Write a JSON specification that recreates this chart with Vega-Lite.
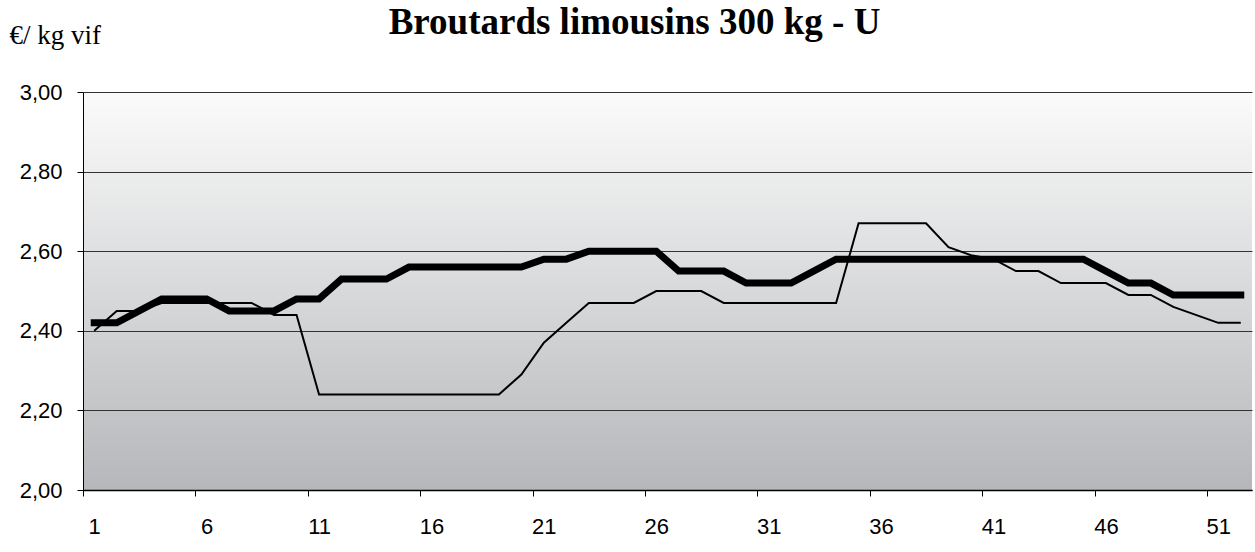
{
  "$schema": "https://vega.github.io/schema/vega-lite/v6.json",
  "width": 1169,
  "height": 398,
  "autosize": {"type": "none"},
  "padding": {"left": 83, "top": 92, "right": 3, "bottom": 62},
  "background": "white",
  "title": {
    "text": "Broutards limousins 300 kg - U",
    "font": "Liberation Serif",
    "fontSize": 37,
    "fontWeight": "bold",
    "color": "#000000",
    "anchor": "middle",
    "frame": "group",
    "dx": -33,
    "offset": -21
  },
  "config": {
    "view": {
      "stroke": null,
      "fill": {
        "gradient": "linear",
        "x1": 0, "y1": 0, "x2": 0, "y2": 1,
        "stops": [
          {"offset": 0, "color": "#fbfbfb"},
          {"offset": 1, "color": "#b5b7ba"}
        ]
      }
    },
    "axis": {
      "labelFont": "Liberation Sans",
      "labelFontSize": 22,
      "labelColor": "#000000",
      "tickColor": "#000000",
      "domainColor": "#000000",
      "tickSize": 6
    }
  },
  "data": {
    "values": [
      {"semaine": 1, "serie": "N-1", "prix": 2.40},
      {"semaine": 2, "serie": "N-1", "prix": 2.45},
      {"semaine": 3, "serie": "N-1", "prix": 2.45},
      {"semaine": 4, "serie": "N-1", "prix": 2.47},
      {"semaine": 5, "serie": "N-1", "prix": 2.47},
      {"semaine": 6, "serie": "N-1", "prix": 2.47},
      {"semaine": 7, "serie": "N-1", "prix": 2.47},
      {"semaine": 8, "serie": "N-1", "prix": 2.47},
      {"semaine": 9, "serie": "N-1", "prix": 2.44},
      {"semaine": 10, "serie": "N-1", "prix": 2.44},
      {"semaine": 11, "serie": "N-1", "prix": 2.24},
      {"semaine": 12, "serie": "N-1", "prix": 2.24},
      {"semaine": 13, "serie": "N-1", "prix": 2.24},
      {"semaine": 14, "serie": "N-1", "prix": 2.24},
      {"semaine": 15, "serie": "N-1", "prix": 2.24},
      {"semaine": 16, "serie": "N-1", "prix": 2.24},
      {"semaine": 17, "serie": "N-1", "prix": 2.24},
      {"semaine": 18, "serie": "N-1", "prix": 2.24},
      {"semaine": 19, "serie": "N-1", "prix": 2.24},
      {"semaine": 20, "serie": "N-1", "prix": 2.29},
      {"semaine": 21, "serie": "N-1", "prix": 2.37},
      {"semaine": 22, "serie": "N-1", "prix": 2.42},
      {"semaine": 23, "serie": "N-1", "prix": 2.47},
      {"semaine": 24, "serie": "N-1", "prix": 2.47},
      {"semaine": 25, "serie": "N-1", "prix": 2.47},
      {"semaine": 26, "serie": "N-1", "prix": 2.50},
      {"semaine": 27, "serie": "N-1", "prix": 2.50},
      {"semaine": 28, "serie": "N-1", "prix": 2.50},
      {"semaine": 29, "serie": "N-1", "prix": 2.47},
      {"semaine": 30, "serie": "N-1", "prix": 2.47},
      {"semaine": 31, "serie": "N-1", "prix": 2.47},
      {"semaine": 32, "serie": "N-1", "prix": 2.47},
      {"semaine": 33, "serie": "N-1", "prix": 2.47},
      {"semaine": 34, "serie": "N-1", "prix": 2.47},
      {"semaine": 35, "serie": "N-1", "prix": 2.67},
      {"semaine": 36, "serie": "N-1", "prix": 2.67},
      {"semaine": 37, "serie": "N-1", "prix": 2.67},
      {"semaine": 38, "serie": "N-1", "prix": 2.67},
      {"semaine": 39, "serie": "N-1", "prix": 2.61},
      {"semaine": 40, "serie": "N-1", "prix": 2.59},
      {"semaine": 41, "serie": "N-1", "prix": 2.58},
      {"semaine": 42, "serie": "N-1", "prix": 2.55},
      {"semaine": 43, "serie": "N-1", "prix": 2.55},
      {"semaine": 44, "serie": "N-1", "prix": 2.52},
      {"semaine": 45, "serie": "N-1", "prix": 2.52},
      {"semaine": 46, "serie": "N-1", "prix": 2.52},
      {"semaine": 47, "serie": "N-1", "prix": 2.49},
      {"semaine": 48, "serie": "N-1", "prix": 2.49},
      {"semaine": 49, "serie": "N-1", "prix": 2.46},
      {"semaine": 50, "serie": "N-1", "prix": 2.44},
      {"semaine": 51, "serie": "N-1", "prix": 2.42},
      {"semaine": 52, "serie": "N-1", "prix": 2.42},
      {"semaine": 1, "serie": "N", "prix": 2.42},
      {"semaine": 2, "serie": "N", "prix": 2.42},
      {"semaine": 3, "serie": "N", "prix": 2.45},
      {"semaine": 4, "serie": "N", "prix": 2.48},
      {"semaine": 5, "serie": "N", "prix": 2.48},
      {"semaine": 6, "serie": "N", "prix": 2.48},
      {"semaine": 7, "serie": "N", "prix": 2.45},
      {"semaine": 8, "serie": "N", "prix": 2.45},
      {"semaine": 9, "serie": "N", "prix": 2.45},
      {"semaine": 10, "serie": "N", "prix": 2.48},
      {"semaine": 11, "serie": "N", "prix": 2.48},
      {"semaine": 12, "serie": "N", "prix": 2.53},
      {"semaine": 13, "serie": "N", "prix": 2.53},
      {"semaine": 14, "serie": "N", "prix": 2.53},
      {"semaine": 15, "serie": "N", "prix": 2.56},
      {"semaine": 16, "serie": "N", "prix": 2.56},
      {"semaine": 17, "serie": "N", "prix": 2.56},
      {"semaine": 18, "serie": "N", "prix": 2.56},
      {"semaine": 19, "serie": "N", "prix": 2.56},
      {"semaine": 20, "serie": "N", "prix": 2.56},
      {"semaine": 21, "serie": "N", "prix": 2.58},
      {"semaine": 22, "serie": "N", "prix": 2.58},
      {"semaine": 23, "serie": "N", "prix": 2.60},
      {"semaine": 24, "serie": "N", "prix": 2.60},
      {"semaine": 25, "serie": "N", "prix": 2.60},
      {"semaine": 26, "serie": "N", "prix": 2.60},
      {"semaine": 27, "serie": "N", "prix": 2.55},
      {"semaine": 28, "serie": "N", "prix": 2.55},
      {"semaine": 29, "serie": "N", "prix": 2.55},
      {"semaine": 30, "serie": "N", "prix": 2.52},
      {"semaine": 31, "serie": "N", "prix": 2.52},
      {"semaine": 32, "serie": "N", "prix": 2.52},
      {"semaine": 33, "serie": "N", "prix": 2.55},
      {"semaine": 34, "serie": "N", "prix": 2.58},
      {"semaine": 35, "serie": "N", "prix": 2.58},
      {"semaine": 36, "serie": "N", "prix": 2.58},
      {"semaine": 37, "serie": "N", "prix": 2.58},
      {"semaine": 38, "serie": "N", "prix": 2.58},
      {"semaine": 39, "serie": "N", "prix": 2.58},
      {"semaine": 40, "serie": "N", "prix": 2.58},
      {"semaine": 41, "serie": "N", "prix": 2.58},
      {"semaine": 42, "serie": "N", "prix": 2.58},
      {"semaine": 43, "serie": "N", "prix": 2.58},
      {"semaine": 44, "serie": "N", "prix": 2.58},
      {"semaine": 45, "serie": "N", "prix": 2.58},
      {"semaine": 46, "serie": "N", "prix": 2.55},
      {"semaine": 47, "serie": "N", "prix": 2.52},
      {"semaine": 48, "serie": "N", "prix": 2.52},
      {"semaine": 49, "serie": "N", "prix": 2.49},
      {"semaine": 50, "serie": "N", "prix": 2.49},
      {"semaine": 51, "serie": "N", "prix": 2.49},
      {"semaine": 52, "serie": "N", "prix": 2.49}
    ]
  },
  "encoding": {
    "x": {
      "field": "semaine",
      "type": "quantitative",
      "scale": {"domain": [0.5, 52.5], "nice": false, "zero": false},
      "axis": {
        "title": null,
        "values": [1, 6, 11, 16, 21, 26, 31, 36, 41, 46, 51],
        "tickOffset": -11.24,
        "labelOffset": 11.24,
        "labelPadding": 20,
        "grid": false,
        "domainWidth": 1.5,
        "labelFlush": false
      }
    },
    "y": {
      "field": "prix",
      "type": "quantitative",
      "scale": {"domain": [2, 3], "nice": false, "zero": false},
      "axis": {
        "values": [2, 2.2, 2.4, 2.6, 2.8, 3],
        "labelExpr": "replace(format(datum.value, '.2f'), '.', ',')",
        "labelPadding": 15,
        "grid": true,
        "gridColor": "#333333",
        "gridWidth": 1,
        "domainWidth": 1,
        "title": "€/ kg vif",
        "titleFont": "Liberation Serif",
        "titleFontSize": 27,
        "titleFontWeight": "normal",
        "titleColor": "#000000",
        "titleAngle": 0,
        "titleAlign": "left",
        "titleBaseline": "alphabetic",
        "titleX": -74,
        "titleY": -49
      }
    }
  },
  "layer": [
    {
      "transform": [{"filter": "datum.serie == 'N-1'"}],
      "mark": {"type": "line", "color": "#000000", "strokeWidth": 2}
    },
    {
      "transform": [{"filter": "datum.serie == 'N'"}],
      "mark": {"type": "line", "color": "#000000", "strokeWidth": 7, "strokeCap": "square"}
    }
  ]
}
